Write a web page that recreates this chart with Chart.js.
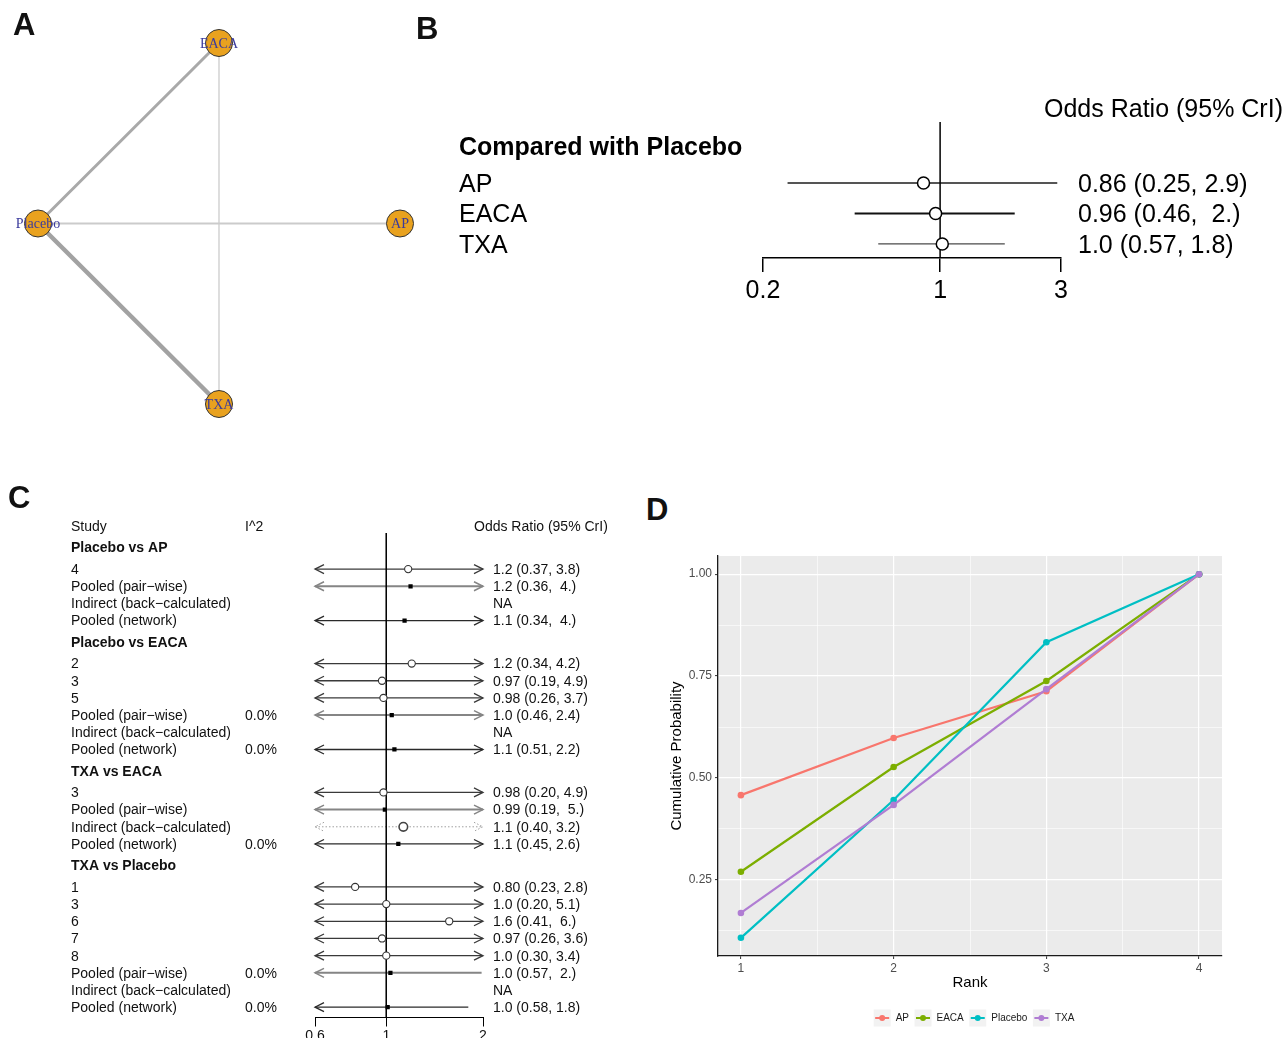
<!DOCTYPE html>
<html><head><meta charset="utf-8">
<script src="https://cdn.jsdelivr.net/npm/chart.js@4.4.1/dist/chart.umd.min.js"></script>
<style>
html,body{margin:0;padding:0;background:#fff;overflow:hidden;width:1287px;height:1038px;position:relative;}
canvas.panel{position:absolute;}
.tag{position:absolute;font:bold 31px "Liberation Sans",Arial,sans-serif;line-height:31px;color:#111;}
</style></head><body>
<canvas id="cA" class="panel" width="440" height="440" style="left:0;top:0"></canvas>
<canvas id="cB" class="panel" width="847" height="240" style="left:440px;top:80px"></canvas>
<canvas id="cC" class="panel" width="640" height="600" style="left:0;top:470px"></canvas>
<canvas id="cD" class="panel" width="647" height="508" style="left:640px;top:530px"></canvas>
<div class="tag" style="left:13px;top:9px">A</div>
<div class="tag" style="left:416px;top:13px">B</div>
<div class="tag" style="left:8px;top:482px">C</div>
<div class="tag" style="left:646px;top:494px">D</div>
<script>
// ---------------- DATA ----------------
// Panel A: network
const treatments = ['AP', 'EACA', 'Placebo', 'TXA'];
const edgeFrom = ['Placebo', 'Placebo', 'EACA', 'Placebo'];
const edgeTo = ['AP', 'EACA', 'TXA', 'TXA'];
const edgeStudies = [1, 3, 1, 5];
const edgeWidths = [2, 3, 1.1, 4.5];
const edgeColors = ['#cbcbcb', '#a9a9a9', '#c2c2c2', '#a2a2a2'];

// Panel B: compared with placebo
const headerB = 'Compared with Placebo';
const compB = ['AP', 'EACA', 'TXA'];
const estB = [0.86, 0.96, 1.02];
const loB = [0.25, 0.46, 0.57];
const hiB = [2.9, 1.97, 1.8];
const ticksB = [0.2, 1, 3];

// Panel C: node-splitting forest
const rowLabelsC = ['Placebo vs AP', '4', 'Pooled (pair\u2212wise)', 'Indirect (back\u2212calculated)', 'Pooled (network)',
  'Placebo vs EACA', '2', '3', '5', 'Pooled (pair\u2212wise)', 'Indirect (back\u2212calculated)', 'Pooled (network)',
  'TXA vs EACA', '3', 'Pooled (pair\u2212wise)', 'Indirect (back\u2212calculated)', 'Pooled (network)',
  'TXA vs Placebo', '1', '3', '6', '7', '8', 'Pooled (pair\u2212wise)', 'Indirect (back\u2212calculated)', 'Pooled (network)'];
const rowKindC = ['group', 'study', 'pairwise', 'indirect', 'network',
  'group', 'study', 'study', 'study', 'pairwise', 'indirect', 'network',
  'group', 'study', 'pairwise', 'indirect', 'network',
  'group', 'study', 'study', 'study', 'study', 'study', 'pairwise', 'indirect', 'network'];
const i2C = [null, null, null, null, null,
  null, null, null, null, 0.0, null, 0.0,
  null, null, null, null, 0.0,
  null, null, null, null, null, null, 0.0, null, 0.0];
const estC = [null, 1.17, 1.19, null, 1.14,
  null, 1.2, 0.97, 0.98, 1.04, null, 1.06,
  null, 0.98, 0.99, 1.13, 1.09,
  null, 0.80, 1.0, 1.57, 0.97, 1.0, 1.03, null, 1.01];
const loC = [null, 0.37, 0.36, null, 0.34,
  null, 0.34, 0.19, 0.26, 0.46, null, 0.51,
  null, 0.20, 0.19, 0.40, 0.45,
  null, 0.23, 0.20, 0.41, 0.26, 0.30, 0.57, null, 0.58];
const hiC = [null, 3.8, 3.97, null, 3.97,
  null, 4.2, 4.9, 3.7, 2.4, null, 2.2,
  null, 4.9, 4.97, 3.2, 2.6,
  null, 2.8, 5.1, 5.97, 3.6, 3.4, 1.98, null, 1.8];
const ticksC = [0.6, 1, 2];

// Panel D: cumulative rank probabilities
const ranks = [1, 2, 3, 4];
const cumAP = [0.458, 0.598, 0.713, 1.0];
const cumEACA = [0.270, 0.527, 0.738, 1.0];
const cumPlacebo = [0.108, 0.446, 0.833, 1.0];
const cumTXA = [0.169, 0.434, 0.718, 1.0];
const seriesNamesD = ['AP', 'EACA', 'Placebo', 'TXA'];
const seriesColorsD = ['#F8766D', '#7CAE00', '#00BFC4', '#B07DD3'];
const yMajorD = [0.25, 0.50, 0.75, 1.00];
const yMinorD = [0.125, 0.375, 0.625, 0.875];
const xMajorD = [1, 2, 3, 4];
const xMinorD = [1.5, 2.5, 3.5];

// ---------------- HELPERS ----------------
const SANS = '"Liberation Sans", Arial, Helvetica, sans-serif';
Chart.defaults.font.family = SANS;
Chart.defaults.color = '#000';
const noPlug = { legend: { display: false }, tooltip: { enabled: false } };

function fmt(v) {
  let p = v.toPrecision(2);
  if (p.endsWith('.0') && Math.floor(v) !== Math.floor(+p)) p = ' ' + p.slice(0, -1);
  return p;
}
function orText(e, l, h) { return fmt(e) + ' (' + fmt(l) + ', ' + fmt(h) + ')'; }

function arrowHead(ctx, xTip, y, dir, len, half) {
  ctx.beginPath();
  ctx.moveTo(xTip - dir * len, y - half);
  ctx.lineTo(xTip, y);
  ctx.lineTo(xTip - dir * len, y + half);
  ctx.stroke();
}
function drawCI(ctx, xs, y, lo, hi, st) {
  const a = Math.max(lo, xs.min), b = Math.min(hi, xs.max);
  const x1 = xs.getPixelForValue(a), x2 = xs.getPixelForValue(b);
  ctx.save();
  ctx.strokeStyle = st.color; ctx.lineWidth = st.width;
  if (st.dash) ctx.setLineDash(st.dash);
  ctx.beginPath(); ctx.moveTo(x1, y); ctx.lineTo(x2, y); ctx.stroke();
  if (st.arrows) {
    ctx.lineWidth = st.arrowWidth || st.width;
    if (lo < xs.min) arrowHead(ctx, x1, y, -1, 9, 4.5);
    if (hi > xs.max) arrowHead(ctx, x2, y, 1, 9, 4.5);
  }
  ctx.restore();
}

// ---------------- PANEL A ----------------
(function () {
  const n = treatments.length;
  const nodePos = treatments.map((t, i) => ({ x: Math.cos(2 * Math.PI * i / n), y: Math.sin(2 * Math.PI * i / n) }));
  const posOf = name => nodePos[treatments.indexOf(name)];
  const edgeSets = edgeFrom.map((f, i) => ({
    data: [posOf(f), posOf(edgeTo[i])], showLine: true, borderColor: edgeColors[i],
    borderWidth: edgeWidths[i], pointRadius: 0, order: 1, clip: false, label: f + '-' + edgeTo[i] + ' (' + edgeStudies[i] + ')'
  }));
  const labelPlugin = {
    id: 'nodeLabels',
    afterDatasetsDraw(chart) {
      const meta = chart.getDatasetMeta(0);
      const ctx = chart.ctx;
      ctx.save();
      ctx.font = '14px "Liberation Serif", "Times New Roman", serif';
      ctx.fillStyle = '#3b3b9c'; ctx.textAlign = 'center'; ctx.textBaseline = 'middle';
      meta.data.forEach((el, i) => ctx.fillText(treatments[i], el.x, el.y + 1));
      ctx.restore();
    }
  };
  new Chart(document.getElementById('cA'), {
    type: 'scatter',
    data: {
      datasets: [{ label: 'nodes', data: nodePos, pointRadius: 13.5, backgroundColor: '#E9A21F', borderColor: '#333', borderWidth: 1, order: 0, clip: false }].concat(edgeSets)
    },
    options: {
      responsive: false, animation: false, events: [],
      layout: { padding: { left: 38, right: 40, top: 43, bottom: 36 } },
      plugins: noPlug,
      scales: { x: { display: false, min: -1, max: 1 }, y: { display: false, min: -1, max: 1 } }
    },
    plugins: [labelPlugin]
  });
})();

// ---------------- PANEL B ----------------
(function () {
  const yTop = -1, yBot = 3.46, headerPos = -0.2, titlePos = -1.45;
  const lineStyles = [{ color: '#1c1c1c', width: 1.5 }, { color: '#111', width: 2.2 }, { color: '#4a4a4a', width: 1.3 }];
  const plug = {
    id: 'forestB',
    beforeDatasetsDraw(chart) {
      const { ctx, scales: { x, y } } = chart;
      compB.forEach((c, i) => drawCI(ctx, x, y.getPixelForValue(i + 1), loB[i], hiB[i], lineStyles[i]));
    },
    afterDraw(chart) {
      const { ctx, chartArea, scales: { y } } = chart;
      const dy = 2;
      ctx.save();
      ctx.fillStyle = '#000'; ctx.textBaseline = 'middle'; ctx.textAlign = 'left';
      ctx.font = 'bold 25px ' + SANS;
      ctx.fillText(headerB, 19, y.getPixelForValue(headerPos) + dy);
      ctx.font = '25px ' + SANS;
      ctx.fillText('Odds Ratio (95% CrI)', chartArea.right - 17, y.getPixelForValue(titlePos) + dy);
      compB.forEach((c, i) => {
        const py = y.getPixelForValue(i + 1) + dy;
        ctx.fillText(c, 19, py);
        ctx.fillText(orText(estB[i], loB[i], hiB[i]), chartArea.right + 17, py);
      });
      ctx.restore();
    }
  };
  new Chart(document.getElementById('cB'), {
    type: 'scatter',
    data: {
      datasets: [
        { data: estB.map((v, i) => ({ x: v, y: i + 1 })), pointRadius: 6, backgroundColor: '#fff', borderColor: '#000', borderWidth: 1.5, order: 0 },
        { data: [{ x: 1, y: yTop }, { x: 1, y: yBot }], showLine: true, borderColor: '#000', borderWidth: 1.5, pointRadius: 0, order: 2 }
      ]
    },
    options: {
      responsive: false, animation: false, events: [],
      layout: { padding: { left: 323, right: 226, top: 42, bottom: 22 } },
      plugins: noPlug,
      scales: {
        x: {
          type: 'logarithmic', min: ticksB[0], max: ticksB[ticksB.length - 1], bounds: 'data',
          afterBuildTicks: s => { s.ticks = ticksB.map(v => ({ value: v })); },
          afterFit: s => { s.height = 40; },
          ticks: { callback: v => String(v), font: { size: 25 }, color: '#000', padding: 4, autoSkip: false, maxRotation: 0 },
          grid: { drawOnChartArea: false, drawTicks: true, tickLength: 14, color: '#000', tickColor: '#000', lineWidth: 1.5, tickWidth: 1.5 },
          border: { display: true, color: '#000', width: 1.5 }
        },
        y: { type: 'linear', reverse: true, min: yTop, max: yBot, display: false }
      }
    },
    plugins: [plug]
  });
})();

// ---------------- PANEL C ----------------
(function () {
  const posC = [];
  let p = 0, prev = 'colhead';
  rowKindC.forEach(k => { p += (k === 'group' || prev === 'group' || prev === 'colhead') ? 1.25 : 1; posC.push(p); prev = k; });
  const yTop = 0.4, yBot = p + 0.6;
  const styles = {
    study: { color: '#3a3a3a', width: 1.3, arrows: true },
    pairwise: { color: '#858585', width: 2, arrows: true, arrowWidth: 1.5 },
    network: { color: '#2a2a2a', width: 1.3, arrows: true },
    indirect: { color: '#a0a0a0', width: 1, dash: [1.5, 2], arrows: true }
  };
  const pick = kinds => rowKindC.map((k, i) => (kinds.includes(k) && estC[i] != null) ? { x: estC[i], y: posC[i] } : null).filter(Boolean);
  const plug = {
    id: 'forestC',
    beforeDatasetsDraw(chart) {
      const { ctx, scales: { x, y } } = chart;
      rowKindC.forEach((k, i) => {
        if (estC[i] == null) return;
        drawCI(ctx, x, y.getPixelForValue(posC[i]), loC[i], hiC[i], styles[k]);
      });
    },
    afterDraw(chart) {
      const { ctx, chartArea, scales: { y } } = chart;
      const xLab = 71, xI2 = 245, xOR = chartArea.right + 10, dy = 1;
      ctx.save();
      ctx.fillStyle = '#111'; ctx.textBaseline = 'middle'; ctx.textAlign = 'left';
      ctx.font = '14px ' + SANS;
      const y0 = y.getPixelForValue(0) + dy;
      ctx.fillText('Study', xLab, y0);
      ctx.fillText('I^2', xI2, y0);
      ctx.fillText('Odds Ratio (95% CrI)', chartArea.right - 9, y0);
      rowKindC.forEach((k, i) => {
        const py = y.getPixelForValue(posC[i]) + dy;
        ctx.font = (k === 'group' ? 'bold ' : '') + '14px ' + SANS;
        ctx.fillText(rowLabelsC[i], xLab, py);
        ctx.font = '14px ' + SANS;
        if (i2C[i] != null) ctx.fillText(i2C[i].toFixed(1) + '%', xI2, py);
        if (k !== 'group') ctx.fillText(estC[i] != null ? orText(estC[i], loC[i], hiC[i]) : 'NA', xOR, py);
      });
      ctx.restore();
    }
  };
  new Chart(document.getElementById('cC'), {
    type: 'scatter',
    data: {
      datasets: [
        { data: pick(['study']), pointStyle: 'circle', pointRadius: 3.6, backgroundColor: '#fff', borderColor: '#333', borderWidth: 1.1, order: 0 },
        { data: pick(['pairwise', 'network']), pointStyle: 'rect', pointRadius: 3, backgroundColor: '#000', borderColor: '#000', borderWidth: 0, order: 0 },
        { data: pick(['indirect']), pointStyle: 'circle', pointRadius: 4.3, backgroundColor: '#fff', borderColor: '#444', borderWidth: 1.6, order: 0 },
        { data: [{ x: 1, y: yTop }, { x: 1, y: yBot }], showLine: true, borderColor: '#000', borderWidth: 1, pointRadius: 0, order: 3 }
      ]
    },
    options: {
      responsive: false, animation: false, events: [],
      layout: { padding: { left: 315, right: 157, top: 63, bottom: 22.5 } },
      plugins: noPlug,
      scales: {
        x: {
          type: 'logarithmic', min: ticksC[0], max: ticksC[ticksC.length - 1], bounds: 'data',
          afterBuildTicks: s => { s.ticks = ticksC.map(v => ({ value: v })); },
          afterFit: s => { s.height = 30; },
          ticks: { callback: v => String(v), font: { size: 14 }, color: '#111', padding: 1, autoSkip: false, maxRotation: 0 },
          grid: { drawOnChartArea: false, drawTicks: true, tickLength: 9, color: '#000', tickColor: '#000' },
          border: { display: true, color: '#000', width: 1 }
        },
        y: { type: 'linear', reverse: true, min: yTop, max: yBot, display: false }
      }
    },
    plugins: [plug]
  });
})();

// ---------------- PANEL D ----------------
(function () {
  const series = [cumAP, cumEACA, cumPlacebo, cumTXA];
  const all = series.flat();
  const lo = Math.min(...all), hi = Math.max(...all), pad = (hi - lo) * 0.05;
  const xPad = (Math.max(...ranks) - Math.min(...ranks)) * 0.05;
  const isMajor = (arr, v) => arr.some(m => Math.abs(m - v) < 1e-9);
  const bgPlugin = {
    id: 'panelBg',
    beforeDraw(chart) {
      const { ctx, chartArea: a } = chart;
      ctx.save(); ctx.fillStyle = '#EBEBEB'; ctx.fillRect(a.left, a.top, a.right - a.left, a.bottom - a.top); ctx.restore();
    }
  };
  const legendPlugin = {
    id: 'ggLegend',
    afterDraw(chart) {
      const { ctx, chartArea: a } = chart;
      ctx.save();
      ctx.font = '10px ' + SANS;
      const key = 17, gapText = 5, gapItem = 5.5;
      const items = chart.data.datasets.map(d => ({ label: d.label, color: d.borderColor, w: ctx.measureText(d.label).width }));
      const total = items.reduce((s, it) => s + key + gapText + it.w, 0) + gapItem * (items.length - 1);
      let x = (a.left + a.right) / 2 + 4 - total / 2;
      const cy = 488;
      items.forEach(it => {
        ctx.fillStyle = '#F2F2F2'; ctx.fillRect(x, cy - key / 2, key, key);
        ctx.strokeStyle = it.color; ctx.lineWidth = 2;
        ctx.beginPath(); ctx.moveTo(x + 1.5, cy); ctx.lineTo(x + key - 1.5, cy); ctx.stroke();
        ctx.fillStyle = it.color; ctx.beginPath(); ctx.arc(x + key / 2, cy, 3, 0, Math.PI * 2); ctx.fill();
        ctx.fillStyle = '#1a1a1a'; ctx.textBaseline = 'middle'; ctx.textAlign = 'left';
        ctx.fillText(it.label, x + key + gapText, cy);
        x += key + gapText + it.w + gapItem;
      });
      ctx.restore();
    }
  };
  new Chart(document.getElementById('cD'), {
    type: 'line',
    data: {
      datasets: series.map((s, i) => ({
        label: seriesNamesD[i], data: ranks.map((r, j) => ({ x: r, y: s[j] })),
        borderColor: seriesColorsD[i], backgroundColor: seriesColorsD[i], pointBackgroundColor: seriesColorsD[i],
        borderWidth: 2.2, pointRadius: 3.3, pointBorderWidth: 0, tension: 0, order: series.length - i
      }))
    },
    options: {
      responsive: false, animation: false, events: [],
      layout: { padding: { left: 0, right: 65, top: 26, bottom: 42 } },
      plugins: noPlug,
      scales: {
        x: {
          type: 'linear', min: Math.min(...ranks) - xPad, max: Math.max(...ranks) + xPad, bounds: 'data',
          afterBuildTicks: s => { s.ticks = xMajorD.concat(xMinorD).sort((a, b) => a - b).map(v => ({ value: v })); },
          afterFit: s => { s.height = 40; },
          ticks: { callback: v => isMajor(xMajorD, v) ? String(v) : '', color: '#4D4D4D', font: { size: 12 }, padding: 2, autoSkip: false, maxRotation: 0 },
          grid: {
            color: '#fff', lineWidth: c => (c.tick && isMajor(xMajorD, c.tick.value)) ? 1.2 : 0.6,
            drawTicks: true, tickLength: 3, tickColor: c => (c.tick && isMajor(xMajorD, c.tick.value)) ? '#333' : 'rgba(0,0,0,0)', tickWidth: 1
          },
          border: { display: true, color: '#1a1a1a', width: 1.3 },
          title: { display: true, text: 'Rank', font: { size: 15 }, color: '#000', padding: { top: 0, bottom: 4 } }
        },
        y: {
          type: 'linear', min: lo - pad, max: hi + pad, bounds: 'data',
          afterBuildTicks: s => { s.ticks = yMajorD.concat(yMinorD).sort((a, b) => a - b).map(v => ({ value: v })); },
          afterFit: s => { s.width = 78; },
          ticks: { callback: v => isMajor(yMajorD, v) ? v.toFixed(2) : '', color: '#4D4D4D', font: { size: 12 }, padding: 3, autoSkip: false },
          grid: {
            color: '#fff', lineWidth: c => (c.tick && isMajor(yMajorD, c.tick.value)) ? 1.2 : 0.6,
            drawTicks: true, tickLength: 3, tickColor: c => (c.tick && isMajor(yMajorD, c.tick.value)) ? '#333' : 'rgba(0,0,0,0)', tickWidth: 1
          },
          border: { display: true, color: '#1a1a1a', width: 1.3 },
          title: { display: true, text: 'Cumulative Probability', font: { size: 15 }, color: '#000', padding: { top: 28, bottom: 0 } }
        }
      }
    },
    plugins: [bgPlugin, legendPlugin]
  });
})();
</script>
</body></html>
